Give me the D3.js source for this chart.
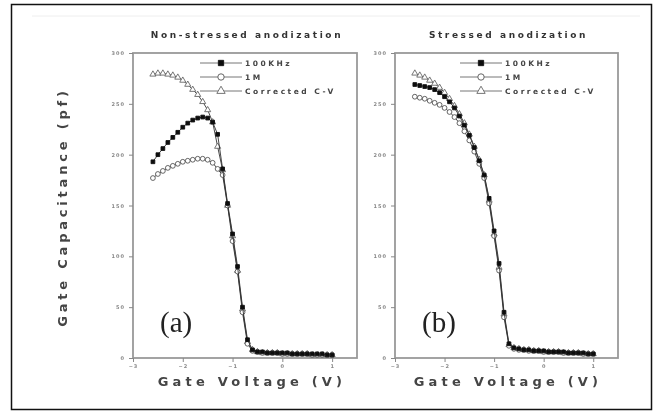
<!DOCTYPE html>
<html>
<head>
<meta charset="utf-8">
<script src="https://cdn.jsdelivr.net/npm/d3@7"></script>
<style>
  body { margin: 0; padding: 0; background: #fff; }
  svg text { font-family: "DejaVu Sans", Arial, sans-serif; }
</style>
</head>
<body>
<div id="main"></div>
<script>
const w = 659;
const h = 412;

// gate voltage (V)
const voltage = [-2.6,-2.5,-2.4,-2.3,-2.2,-2.1,-2.0,-1.9,-1.8,-1.7,-1.6,-1.5,-1.4,-1.3,-1.2,-1.1,-1.0,-0.9,-0.8,-0.7,
                 -0.6,-0.5,-0.4,-0.3,-0.2,-0.1,0.0,0.1,0.2,0.3,0.4,0.5,0.6,0.7,0.8,0.9,1.0];

// (a) non-stressed anodization, capacitance (pf)
const a100k = [193,200,206,212,217,222,227,231,234,236,237,236,232,220,186,152,122,90,50,18,
               8,6,6,5,5,5,5,5,4,4,4,4,4,4,4,3,3];
const a1M   = [177,181,184,187,189,191,193,194,195,196,196,195,192,186,180,150,115,85,45,14,
               7,6,5,5,5,5,4,4,4,4,4,4,3,3,3,3,3];
const aCorr = [279,280,280,279,278,276,273,269,264,259,252,244,232,208,185,150,120,86,48,16,
               8,6,5,5,5,5,4,4,4,4,4,4,3,3,3,3,3];

// (b) stressed anodization, capacitance (pf)
const b100k = [269,268,267,266,264,261,257,252,246,238,229,219,207,194,180,157,125,93,45,14,
               10,9,8,8,7,7,7,6,6,6,6,5,5,5,5,4,4];
const b1M   = [257,256,255,253,251,249,246,242,237,231,223,214,203,191,177,152,120,86,40,12,
               9,8,8,7,7,7,6,6,6,6,5,5,5,5,4,4,4];
const bCorr = [280,278,276,273,270,266,261,255,248,240,231,220,208,195,180,155,122,89,43,13,
               10,9,8,8,7,7,6,6,6,6,5,5,5,5,4,4,4];

const xTicks = [-3,-2,-1,0,1];
const yTicks = [0,50,100,150,200,250,300];
const seriesNames = ['100KHz','1M','Corrected C-V'];

const panels = [
  {left: 133, right: 357, title: 'Non-stressed anodization', tag: '(a)', data: [a100k, a1M, aCorr], legX: 200, xt: 252},
  {left: 395, right: 618, title: 'Stressed anodization', tag: '(b)', data: [b100k, b1M, bCorr], legX: 460, xt: 508}
];
const plotTop = 53, plotBottom = 358;

const svg = d3.select('#main').append('svg')
  .attr('width', w).attr('height', h);

svg.append('rect').attr('x', 0).attr('y', 0).attr('width', w).attr('height', h).attr('fill', '#fff');

const defs = svg.append('defs');
defs.append('filter').attr('id', 'soft')
  .append('feGaussianBlur').attr('stdDeviation', 0.45);

// outer border
svg.append('rect')
  .attr('x', 11.5).attr('y', 4.5).attr('width', 640).attr('height', 405)
  .attr('fill', 'none').attr('stroke', '#111').attr('stroke-width', 1.5);
svg.append('line')
  .attr('x1', 32).attr('x2', 640).attr('y1', 16).attr('y2', 16)
  .attr('stroke', '#eee').attr('stroke-width', 1);

const g0 = svg.append('g').attr('filter', 'url(#soft)');

const yScale = d3.scaleLinear().domain([0, 300]).range([plotBottom, plotTop]);

panels.forEach(p => {
  const xScale = d3.scaleLinear().domain([-3, 1.5]).range([p.left, p.right]);
  const g = g0.append('g');

  // frame
  g.append('rect')
    .attr('x', p.left).attr('y', plotTop)
    .attr('width', p.right - p.left).attr('height', plotBottom - plotTop)
    .attr('fill', 'none').attr('stroke', '#999').attr('stroke-width', 1.8);

  const xAxis = d3.axisBottom(xScale).tickValues(xTicks).tickFormat(d3.format('d')).tickSize(4).tickPadding(2);
  const yAxis = d3.axisLeft(yScale).tickValues(yTicks).tickFormat(d3.format('d')).tickSize(4).tickPadding(4);

  const gx = g.append('g').attr('transform', 'translate(0,' + plotBottom + ')').call(xAxis);
  const gy = g.append('g').attr('transform', 'translate(' + p.left + ',0)').call(yAxis);
  [gx, gy].forEach(ax => {
    ax.select('.domain').remove();
    ax.selectAll('line').attr('stroke', '#888').attr('stroke-width', 1);
    ax.selectAll('text').attr('fill', '#888').attr('font-size', '5px').attr('font-weight', 'bold')
      .style('letter-spacing', '1px');
  });

  // panel title
  g.append('text')
    .text(p.title)
    .attr('x', (p.left + p.right) / 2 + 2).attr('y', 38)
    .attr('text-anchor', 'middle')
    .attr('font-size', '9px').attr('font-weight', 'bold').attr('fill', '#333')
    .style('letter-spacing', '2.6px');

  // x title
  g.append('text')
    .text('Gate Voltage (V)')
    .attr('x', p.xt).attr('y', 386)
    .attr('text-anchor', 'middle')
    .attr('font-size', '13px').attr('font-weight', 'bold').attr('fill', '#444')
    .style('letter-spacing', '4.2px');

  // panel tag
  g.append('text')
    .text(p.tag)
    .attr('x', p.left + 27).attr('y', 332)
    .style('font-family', '"Liberation Serif", "Times New Roman", serif')
    .attr('font-size', '29px').attr('fill', '#222');

  const line = d3.line().x((d, i) => xScale(voltage[i])).y(d => yScale(d));

  const styles = [
    {shape: d3.symbolSquare, size: 14, fill: '#111', stroke: '#111'},
    {shape: d3.symbolCircle, size: 18, fill: '#fff', stroke: '#555'},
    {shape: d3.symbolTriangle, size: 16, fill: '#fff', stroke: '#666'}
  ];

  // draw order: corrected, 1M, 100KHz on top
  [2, 1, 0].forEach(k => {
    const s = styles[k];
    g.append('path').datum(p.data[k])
      .attr('d', line)
      .attr('fill', 'none').attr('stroke', '#333').attr('stroke-width', 0.9);
    g.selectAll('.m' + k).data(p.data[k]).enter().append('path')
      .attr('class', 'm' + k)
      .attr('transform', (d, i) => 'translate(' + xScale(voltage[i]) + ',' + yScale(d) + ')')
      .attr('d', d3.symbol().type(s.shape).size(s.size))
      .attr('fill', s.fill).attr('stroke', s.stroke).attr('stroke-width', 0.9);
  });

  // legend
  const leg = g.append('g');
  seriesNames.forEach((name, k) => {
    const s = styles[k];
    const ly = 63 + k * 14;
    leg.append('line').attr('x1', p.legX).attr('x2', p.legX + 42).attr('y1', ly).attr('y2', ly)
      .attr('stroke', '#777').attr('stroke-width', 1);
    leg.append('path')
      .attr('transform', 'translate(' + (p.legX + 21) + ',' + ly + ')')
      .attr('d', d3.symbol().type(s.shape).size(s.size + 14))
      .attr('fill', s.fill).attr('stroke', s.stroke).attr('stroke-width', 0.9);
    leg.append('text').text(name)
      .attr('x', p.legX + 45).attr('y', ly + 3)
      .attr('font-size', '7.5px').attr('font-weight', 'bold').attr('fill', '#444')
      .style('letter-spacing', '2.5px');
  });
});

// y title
g0.append('text')
  .text('Gate Capacitance (pf)')
  .attr('transform', 'translate(67,207) rotate(-90)')
  .attr('text-anchor', 'middle')
  .attr('font-size', '13px').attr('font-weight', 'bold').attr('fill', '#444')
  .style('letter-spacing', '3.8px');
</script>
</body>
</html>
